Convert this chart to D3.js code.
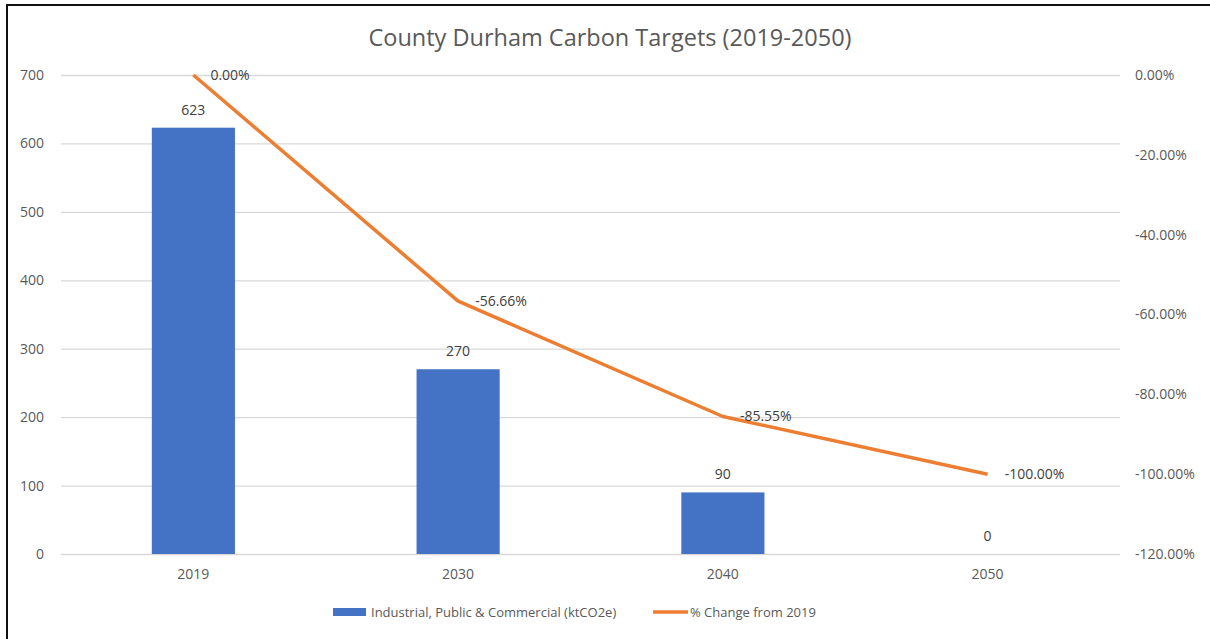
<!DOCTYPE html>
<html>
<head>
<meta charset="utf-8">
<script src="https://cdn.jsdelivr.net/npm/d3@7"></script>
<style>
  body { margin: 0; background: #fff; }
  svg text { font-family: "Open Sans", sans-serif; fill: #595959; }
</style>
</head>
<body>
<div id="target_div"></div>
<script>
var years = ['2019', '2030', '2040', '2050'];
var emissions = [623, 270, 90, 0]; // ktCO2e
var pctChange = [0, -56.66, -85.55, -100]; // % change from 2019
var leftTicks = [0, 100, 200, 300, 400, 500, 600, 700];
var rightTicks = [0, -20, -40, -60, -80, -100, -120];

var W = 1210, H = 639;
var plot = {left: 61, right: 1120, top: 75, bottom: 554};

var blue = '#4472c4';
var orange = '#ed7d31';
var grid = '#d9d9d9';

// excel style percent, plain hyphen for the minus sign
var pct = d => d.toFixed(2) + '%';

var svg = d3.select('#target_div')
  .append('svg')
  .attr('width', W)
  .attr('height', H);

// frame (only top and left edges are visible in the screenshot)
svg.append('line')
  .attr('x1', 6).attr('x2', W).attr('y1', 5).attr('y2', 5)
  .style('stroke', '#111').style('stroke-width', 2);
svg.append('line')
  .attr('x1', 7).attr('x2', 7).attr('y1', 4).attr('y2', H)
  .style('stroke', '#111').style('stroke-width', 2);

var x = d3.scaleBand()
  .domain(years)
  .range([plot.left, plot.right])
  .paddingInner(0.686)
  .paddingOuter(0.343);

var yL = d3.scaleLinear().domain([0, 700]).range([plot.bottom, plot.top]);
var yR = d3.scaleLinear().domain([-120, 0]).range([plot.bottom, plot.top]);

// gridlines
svg.append('g')
  .attr('transform', `translate(${plot.left}, 0)`)
  .call(d3.axisLeft(yL).tickValues(leftTicks).tickSize(-(plot.right - plot.left)).tickFormat(''))
  .call(g => g.select('.domain').remove())
  .call(g => g.selectAll('line').style('stroke', grid).style('stroke-width', 1.3));

// left axis labels
svg.append('g')
  .attr('transform', `translate(${plot.left}, 0)`)
  .call(d3.axisLeft(yL).tickValues(leftTicks).tickSize(0).tickPadding(17))
  .call(g => g.select('.domain').remove())
  .call(g => g.selectAll('text').style('font-size', '14px').style('fill', '#595959'));

// right axis labels
svg.append('g')
  .attr('transform', `translate(${plot.right}, 0)`)
  .call(d3.axisRight(yR).tickValues(rightTicks).tickSize(0).tickPadding(15).tickFormat(pct))
  .call(g => g.select('.domain').remove())
  .call(g => g.selectAll('text').style('font-size', '14px').style('fill', '#595959'));

// category axis
svg.append('g')
  .attr('transform', `translate(0, ${plot.bottom})`)
  .call(d3.axisBottom(x).tickSize(0).tickPadding(15))
  .call(g => g.select('.domain').remove())
  .call(g => g.selectAll('text').style('font-size', '14px').style('fill', '#595959'));

// bars
svg.selectAll('rect.bar')
  .data(emissions)
  .enter()
  .append('rect')
  .attr('class', 'bar')
  .attr('x', (d, i) => x(years[i]))
  .attr('y', d => yL(d))
  .attr('width', x.bandwidth())
  .attr('height', d => yL(0) - yL(d))
  .style('fill', blue);

svg.selectAll('text.barlabel')
  .data(emissions)
  .enter()
  .append('text')
  .attr('class', 'barlabel')
  .attr('x', (d, i) => x(years[i]) + x.bandwidth() / 2)
  .attr('y', d => yL(d) - 13)
  .attr('text-anchor', 'middle')
  .style('font-size', '14px')
  .style('fill', '#404040')
  .text(d => d);

// % change line
var lineGen = d3.line()
  .x((d, i) => x(years[i]) + x.bandwidth() / 2)
  .y(d => yR(d));

svg.append('path')
  .attr('d', lineGen(pctChange))
  .style('fill', 'none')
  .style('stroke', orange)
  .style('stroke-width', 3.5)
  .style('stroke-linejoin', 'round');

svg.selectAll('text.linelabel')
  .data(pctChange)
  .enter()
  .append('text')
  .attr('class', 'linelabel')
  .attr('x', (d, i) => x(years[i]) + x.bandwidth() / 2 + 17)
  .attr('y', d => yR(d) + 5)
  .style('font-size', '14px')
  .style('fill', '#404040')
  .text(pct);

// title
svg.append('text')
  .attr('x', 610)
  .attr('y', 46)
  .attr('text-anchor', 'middle')
  .style('font-size', '23.5px')
  .text('County Durham Carbon Targets (2019-2050)');

// legend
var legend = svg.append('g').attr('transform', 'translate(0, 612)');
legend.append('rect')
  .attr('x', 333).attr('y', -4)
  .attr('width', 33).attr('height', 8)
  .style('fill', blue);
legend.append('text')
  .attr('x', 371).attr('y', 5)
  .style('font-size', '13px')
  .text('Industrial, Public & Commercial (ktCO2e)');
legend.append('line')
  .attr('x1', 653).attr('x2', 688).attr('y1', 0).attr('y2', 0)
  .style('stroke', orange).style('stroke-width', 3.5);
legend.append('text')
  .attr('x', 690).attr('y', 5)
  .style('font-size', '13px')
  .text('% Change from 2019');
</script>
</body>
</html>
